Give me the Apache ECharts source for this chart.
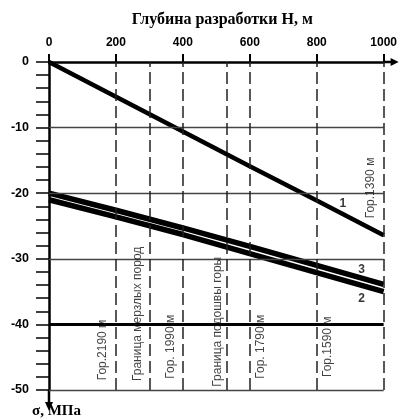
<!DOCTYPE html>
<html><head><meta charset="utf-8">
<script src="https://cdn.jsdelivr.net/npm/echarts@6/dist/echarts.min.js"></script>
<style>html,body{margin:0;padding:0;background:#fff}#c{width:400px;height:420px}</style>
</head><body><div id="c"></div>
<script>
// ---- data ----
const depth  = [0, 200, 400, 600, 800, 1000];
const curve1 = [0, -5.3, -10.6, -15.9, -21.1, -26.4];
const curve3 = [-20, -22.6, -25.3, -28.1, -31.0, -33.9];
const curve2 = [-21, -23.6, -26.3, -29.2, -32.1, -35.0];
const xTickLabels = [0, 200, 400, 600, 800, 1000];
const yTickLabels = [0, -10, -20, -30, -40, -50];
const gridLinesThin = [-10, -20, -30, -50];
const gridLinesBold = [-40];
const levelLines = [200, 300, 400, 530, 600, 800, 1000];
const noteText = ['Гор.2190 м', 'Граница мерзлых пород', 'Гор. 1990 м', 'Граница подошвы горы', 'Гор. 1790 м', 'Гор.1590 м', 'Гор.1390 м'];
const noteX    = [161, 264, 364, 504, 633, 833, 961];
const noteY    = [-43.9, -38.4, -43.4, -39.6, -43.4, -43.4, -19.2];
const curveNames = ['1', '3', '2'];
const curveNameX = [878, 934, 934];
const curveNameY = [-21.6, -31.6, -36.1];

const pair = (xs, ys) => xs.map((x, i) => [x, ys[i]]);
const chart = echarts.init(document.getElementById('c'), null, {renderer: 'canvas'});
const sans = 'Liberation Sans, Arial, sans-serif';
const serif = 'Liberation Serif, Times New Roman, serif';

const option = {
  animation: false,
  backgroundColor: '#fff',
  grid: {left: 49, right: 16, top: 62, bottom: 30, containLabel: false},
  xAxis: {
    type: 'value', position: 'top', min: 0, max: 1000, interval: 200,
    name: 'Глубина разработки Н, м', nameLocation: 'middle', nameGap: 34,
    nameTextStyle: {fontFamily: serif, fontWeight: 'bold', fontSize: 16, color: '#000', padding: [0, 0, 0, 12]},
    axisLine: {show: true, lineStyle: {color: '#000', width: 2.5}},
    axisTick: {show: true, inside: false, length: 8, lineStyle: {color: '#000', width: 2}},
    axisLabel: {margin: 13, fontFamily: sans, fontWeight: 'bold', fontSize: 12, color: '#000',
      formatter: v => xTickLabels.includes(v) ? String(v) : ''},
    splitLine: {show: false}
  },
  yAxis: {
    type: 'value', min: -50, max: 0, interval: 2,
    axisLine: {show: true, onZero: false, lineStyle: {color: '#000', width: 2.5}},
    axisTick: {show: true, inside: false, length: 13, lineStyle: {color: '#000', width: 1.5}},
    axisLabel: {margin: 20, fontFamily: sans, fontWeight: 'bold', fontSize: 12.5, color: '#000',
      formatter: v => yTickLabels.includes(v) ? String(v) : ''},
    splitLine: {show: false}
  },
  series: [
    {
      type: 'line', data: [], z: 1, silent: true,
      markLine: {
        silent: true, symbol: 'none', label: {show: false}, animation: false,
        data: [
          ...gridLinesThin.map(v => ({yAxis: v, lineStyle: {color: '#444', width: 1.4, type: 'solid'}})),
          ...gridLinesBold.map(v => ({yAxis: v, lineStyle: {color: '#000', width: 2.8, type: 'solid'}})),
          ...levelLines.map(v => ({xAxis: v, lineStyle: {color: '#222', width: 1.5, type: [12, 5]}}))
        ]
      }
    },
    {type: 'line', name: '1', data: pair(depth, curve1), symbol: 'none', z: 3,
      lineStyle: {color: '#000', width: 4.5}},
    {type: 'line', name: '3', data: pair(depth, curve3), symbol: 'none', z: 3,
      lineStyle: {color: '#000', width: 5.5}},
    {type: 'line', name: '2', data: pair(depth, curve2), symbol: 'none', z: 3,
      lineStyle: {color: '#000', width: 5.5}},
    {type: 'scatter', symbolSize: 0, z: 5, silent: true,
      data: noteText.map((t, i) => ({name: t, value: [noteX[i], noteY[i]]})),
      label: {show: true, position: 'inside', rotate: 90, formatter: p => p.name,
        fontFamily: sans, fontSize: 12, color: '#111'}},
    {type: 'scatter', symbolSize: 0, z: 5, silent: true,
      data: curveNames.map((t, i) => ({name: t, value: [curveNameX[i], curveNameY[i]]})),
      label: {show: true, position: 'inside', formatter: p => p.name,
        fontFamily: sans, fontWeight: 'bold', fontSize: 12, color: '#000'}}
  ]
};
chart.setOption(option);

// arrows & axis unit label (decorations placed from the axis scales)
const [xEnd, y0] = chart.convertToPixel({gridIndex: 0}, [1000, 0]);
const [x0, yBot] = chart.convertToPixel({gridIndex: 0}, [0, -50]);
chart.setOption({
  graphic: [
    {type: 'line', shape: {x1: xEnd, y1: y0, x2: xEnd + 9, y2: y0}, style: {stroke: '#000', lineWidth: 2.5}},
    {type: 'polygon', shape: {points: [[xEnd + 7, y0 - 4], [xEnd + 15, y0], [xEnd + 7, y0 + 4]]}, style: {fill: '#000'}},
    {type: 'line', shape: {x1: x0, y1: yBot, x2: x0, y2: yBot + 14}, style: {stroke: '#000', lineWidth: 2.5}},
    {type: 'polygon', shape: {points: [[x0 - 4, yBot + 12], [x0, yBot + 21], [x0 + 4, yBot + 12]]}, style: {fill: '#000'}},
    {type: 'text', z: 10, style: {x: x0 - 17, y: yBot + 21, text: 'σ, МПа', fill: '#000',
      font: 'bold 15px ' + serif, verticalAlign: 'middle', align: 'left'}}
  ]
});
</script></body></html>
